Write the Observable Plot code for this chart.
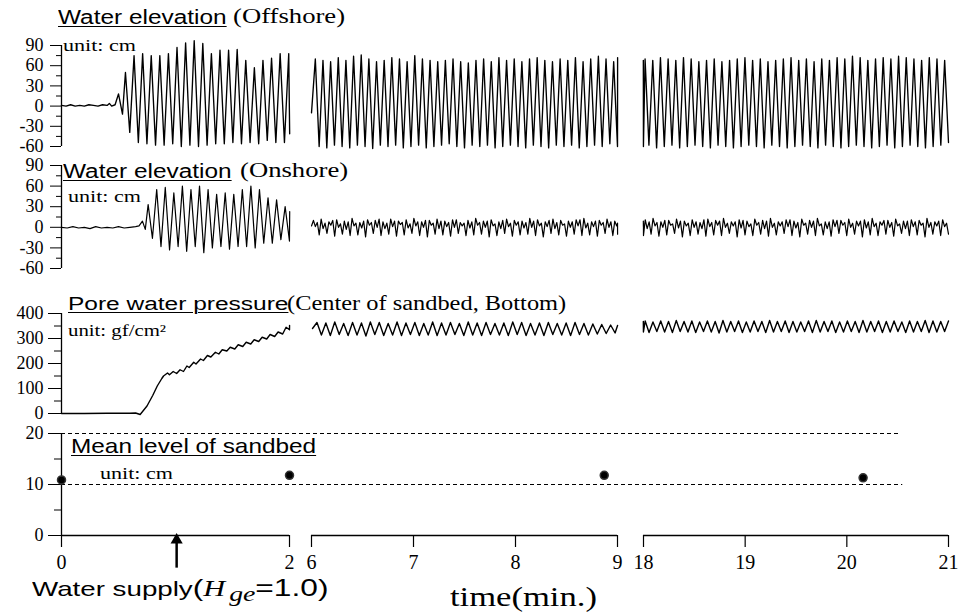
<!DOCTYPE html>
<html><head><meta charset="utf-8">
<script src="https://cdn.jsdelivr.net/npm/d3@7"></script>
<script src="https://cdn.jsdelivr.net/npm/@observablehq/plot@0.6"></script>
<style>
body{margin:0;background:#fff}
#wrap{position:relative;width:958px;height:614px;overflow:hidden;background:#fff}
.layer{position:absolute;left:0;top:0;width:958px;height:614px}
.layer svg{display:block}
.lbl{position:absolute;white-space:nowrap;line-height:1;transform-origin:0 0;color:#000}
.sans{font-family:"Liberation Sans",Arial,sans-serif}
.serif{font-family:"Liberation Serif","Times New Roman",serif}
.u{text-decoration:underline;text-decoration-thickness:1px;text-underline-offset:2px}
</style></head><body>
<div id="wrap"></div>
<script>
// ---- axes ----
const xDomain = [0, 2, 6, 9, 18, 21];
const xRange = [61, 289, 311, 617, 643, 948];
const segStart = [0, 6, 18];
const segEnd = [2, 9, 21];
const xTicks = [0, 2, 6, 7, 8, 9, 18, 19, 20, 21];
const elevTicks = [-60, -30, 0, 30, 60, 90];
const elevMinor = [-45, -15, 15, 45, 75];
const poreTicks = [0, 100, 200, 300, 400];
const poreMinor = [50, 150, 250, 350];
const levelTicks = [0, 10, 20];
const levelMinor = [5, 15];

// ---- Water elevation (Offshore), cm ----
const offshore1Pre = [[0,1],[0.04,0],[0.08,2],[0.12,0],[0.16,1],[0.2,0],[0.24,2],[0.28,1],[0.32,0],[0.36,2],[0.4,1],[0.42,4],[0.44,0],[0.47,2],[0.50,18],[0.535,-12]];
const offshore1Span = [0.561, 2.031];
const offshore1Wave = [50,-39,75,-54,78,-56,75,-58,75,-58,78,-56,87,-60,94,-58,97,-60,93,-58,78,-56,83,-56,83,-54,84,-56,68,-54,57,-56,68,-51,71,-54,78,-54,78,-41];
const offshore2Span = [6.0, 9.0375];
const offshore2Wave = [-10,70,-60,68,-62,66,-58,72,-60,68,-62,74,-58,76,-60,70,-63,66,-58,68,-60,72,-58,70,-62,66,-60,75,-58,70,-62,68,-60,66,-58,68,-56,70,-60,66,-62,64,-58,68,-60,70,-58,66,-62,72,-60,68,-58,70,-60,66,-62,70,-58,72,-60,68,-62,66,-58,70,-60,68,-58,72,-62,66,-60,70,-58,74,-60,70,-56,66,-60,72];
const offshore3Span = [17.94, 21.0];
const offshore3Wave = [68,-60,70,-58,68,-62,72,-60,70,-58,68,-62,72,-60,70,-58,66,-60,68,-62,70,-58,66,-60,68,-62,70,-60,72,-58,68,-60,70,-62,66,-58,68,-60,70,-62,72,-60,68,-58,70,-60,66,-62,70,-58,68,-60,72,-62,70,-60,74,-58,72,-60,68,-62,70,-60,72,-58,70,-62,74,-60,72,-58,70,-60,68,-62,72,-60,70,-58,68,-54];

// ---- Water elevation (Onshore), cm ----
const onshore1Pre = [[0,0],[0.05,-1],[0.1,1],[0.15,-1],[0.2,0],[0.25,-2],[0.3,1],[0.35,-1],[0.4,0],[0.45,-1],[0.5,1],[0.55,-1],[0.6,0],[0.65,1],[0.68,2],[0.71,9],[0.735,-3]];
const onshore1Span = [0.76, 2.037];
const onshore1Wave = [33,-16,55,-28,58,-33,50,-28,60,-35,55,-28,60,-37,55,-30,48,-28,50,-32,48,-28,55,-28,60,-30,55,-23,43,-23,40,-18,30,-20,23];
const onshore2Span = [6.0, 9.03];
const onshore2Wave = [2,
  10,1,7,-11, 12,-2,6,-9, 8,3,10,-13, 11,0,5,-10, 9,-3,8,-12, 13,2,6,-11, 7,-1,9,-14, 11,3,7,-9, 10,0,12,-12, 8,-2,6,-10,
  12,1,9,-13, 9,4,7,-11, 11,-1,5,-9, 13,2,8,-12, 8,0,10,-14, 10,3,6,-10, 12,-2,9,-11, 9,1,7,-13, 11,0,11,-9, 7,2,6,-12,
  10,-1,8,-11, 13,3,7,-10, 9,0,9,-14, 11,2,5,-12, 8,-2,10,-9, 12,1,6,-13, 10,3,8,-11, 9,-1,7,-10, 13,0,9,-12, 11,2,6,-14,
  8,1,10,-9, 12,-2,7,-11, 10,3,5,-13, 9,0,8,-10, 11,2,11,-12, 13,-1,6,-11, 8,1,9,-13, 10,3,7,-9, 12,0,8,-12, 9,2,6,-10];
const onshore3Span = [17.94, 21.0];
const onshore3Wave = [
  9,1,6,-12, 11,-2,8,-10, 13,2,7,-13, 8,0,10,-11, 10,3,5,-9, 12,-1,9,-14, 9,2,6,-12, 11,0,8,-10, 7,-2,11,-13, 12,1,7,-11,
  10,3,9,-12, 13,0,6,-9, 8,2,8,-14, 11,-1,10,-11, 9,1,5,-12, 12,3,7,-10, 10,-2,9,-13, 13,0,6,-11, 8,2,8,-9, 11,1,11,-12,
  9,-1,7,-14, 12,3,6,-10, 10,0,9,-12, 13,2,5,-11, 8,-2,8,-13, 11,1,10,-9, 10,3,7,-12, 12,0,6,-10, 9,2,9,-14, 11,-1,8,-11,
  13,1,6,-12, 8,3,10,-10, 10,0,7,-13, 12,2,5,-9, 9,-2,9,-12, 11,1,8,-11, 10,3,6,-14, 13,0,7,-10, 8,2,9,-12, 11,1,6,-10];

// ---- Pore water pressure, gf/cm2 ----
const pore1Pre = [[0,0],[0.2,0],[0.4,1],[0.6,1],[0.65,2],[0.69,-4],[0.75,30],[0.80,72],[0.84,110],[0.88,140],[0.895,150],[0.93,162],[0.947,155],[0.98,168],[1.01,160],[1.04,175],[1.07,168],[1.10,190],[1.12,184],[1.16,205],[1.18,198],[1.22,218],[1.245,212],[1.28,232],[1.31,226],[1.35,245],[1.38,238],[1.41,255],[1.45,250],[1.48,265],[1.52,258],[1.55,275],[1.59,268],[1.62,285],[1.66,278],[1.69,295],[1.73,288],[1.76,305],[1.80,298],[1.83,316],[1.87,308],[1.90,326],[1.94,318],[1.97,345],[2.0,335],[2.01,352]];
const pore2Span = [6.01, 9.02];
const pore2Wave = [340,364,314,362,312,366,316,360,312,364,314,362,310,366,316,364,312,360,314,366,312,362,316,364,312,360,314,366,312,362,314,364,316,360,312,366,314,362,312,364,316,360,314,362,312,366,316,364,312,360,314,362,312,364,316,360,314,362,312,364,316,360,314,358,318,356,320,354,322,352];
const pore3Span = [17.94, 21.0];
const pore3Wave = [368,326,370,324,366,328,370,326,368,324,372,328,368,326,370,324,366,328,370,326,368,322,372,326,368,328,370,324,366,326,370,328,368,324,372,326,368,328,370,324,368,326,366,328,370,324,372,326,368,328,370,324,366,326,370,328,368,324,372,326,368,328,370,324,368,326,370,328,366,324,370,326,368,328,372,324,370,326,368,328,370];

// ---- Mean level of sandbed, cm ----
const meanT = [0, 2, 8.87, 20.16];
const meanLevel = [10.9, 11.8, 11.8, 11.3];
const refLevels = [20, 10];
const refEnd = [20.51, 20.55];
const supplyT = 1.01;
const supplyArrow = [-6.4, -1.2];

function build(pre, span, values, seg) {
  const rows = pre.map(([t, v]) => ({t, v, seg}));
  const n = values.length;
  values.forEach((v, i) => rows.push({t: span[0] + (span[1] - span[0]) * i / (n - 1), v, seg}));
  return rows;
}
const offshoreRows = [...build(offshore1Pre, offshore1Span, offshore1Wave, 1), ...build([], offshore2Span, offshore2Wave, 2), ...build([], offshore3Span, offshore3Wave, 3)];
const onshoreRows = [...build(onshore1Pre, onshore1Span, onshore1Wave, 1), ...build([], onshore2Span, onshore2Wave, 2), ...build([], onshore3Span, onshore3Wave, 3)];
const poreRows = [...build(pore1Pre, [0, 0], [], 1), ...build([], pore2Span, pore2Wave, 2), ...build([], pore3Span, pore3Wave, 3)];
const meanRows = meanT.map((t, i) => ({t, level: meanLevel[i]}));
const refRows = refLevels.map((y, i) => ({y, e: refEnd[i]}));
const segRows = segStart.map((s, i) => ({s, e: segEnd[i]}));

const W = 958, H = 614;
const wrap = document.getElementById("wrap");
const fmt = d => String(d);

function panel({mt, mb, domain, ticks, minor, size, minorSize, pad, marks, xAxis}) {
  const xs = {type: "linear", domain: xDomain, range: xRange};
  if (!xAxis) xs.axis = null;
  return Plot.plot({
    width: W, height: H,
    marginLeft: 61, marginRight: 10, marginTop: mt, marginBottom: mb,
    style: {background: "transparent", color: "black", fontFamily: "'Liberation Serif', serif", fontSize: "18px", overflow: "visible"},
    x: xs,
    y: {type: "linear", domain},
    marks: [
      Plot.ruleX([0], {y1: () => domain[0], y2: () => domain[1], stroke: "black", strokeWidth: 1.3}),
      Plot.axisY({ticks, tickSize: size, tickPadding: pad, tickFormat: fmt, stroke: "black", fill: "black", label: null, fontSize: 18}),
      Plot.axisY({ticks: minor, tickSize: minorSize, tickFormat: () => "", stroke: "black", label: null}),
      ...(xAxis ? [Plot.axisX({ticks: xTicks, tickSize: 12, tickPadding: 7, tickFormat: fmt, stroke: "black", fill: "black", label: null, fontSize: 20, strokeWidth: 1.2})] : []),
      ...marks
    ]
  });
}

const plots = [
  panel({mt: 45, mb: H - 146, domain: [-60, 90], ticks: elevTicks, minor: elevMinor, size: 11, minorSize: 5, pad: 7,
    marks: [Plot.line(offshoreRows, {x: "t", y: "v", z: "seg", stroke: "black", strokeWidth: 1.35})]}),
  panel({mt: 165, mb: H - 268, domain: [-60, 90], ticks: elevTicks, minor: elevMinor, size: 11, minorSize: 5, pad: 7,
    marks: [Plot.line(onshoreRows, {x: "t", y: "v", z: "seg", stroke: "black", strokeWidth: 1.2})]}),
  panel({mt: 313, mb: H - 413, domain: [0, 400], ticks: poreTicks, minor: poreMinor, size: 13, minorSize: 7, pad: 5,
    marks: [Plot.line(poreRows, {x: "t", y: "v", z: "seg", stroke: "black", strokeWidth: 1.4})]}),
  panel({mt: 433, mb: H - 535, domain: [0, 20], ticks: levelTicks, minor: levelMinor, size: 13, minorSize: 7, pad: 5, xAxis: true,
    marks: [
      Plot.ruleY(refRows, {y: "y", x1: () => 0, x2: "e", stroke: "black", strokeWidth: 1, strokeDasharray: "4,3"}),
      Plot.ruleY(segRows, {y: () => 0, x1: "s", x2: "e", stroke: "black", strokeWidth: 1.3}),
      Plot.dot(meanRows, {x: "t", y: "level", r: 4, fill: "black", stroke: "#333"}),
      Plot.ruleX([supplyT], {y1: () => supplyArrow[0], y2: () => supplyArrow[1], stroke: "black", strokeWidth: 2.5}),
      Plot.dot([supplyT], {x: d => d, y: () => supplyArrow[1] + 0.3, symbol: "triangle", r: 4.5, fill: "black"})
    ]})
];
plots.forEach(p => {
  const d = document.createElement("div");
  d.className = "layer";
  d.appendChild(p);
  wrap.appendChild(d);
});

// ---- text labels ----
const labels = [
  {html: "Water elevation", cls: "sans u", left: 58, base: 24, size: 20, sx: 1.22},
  {html: "(Offshore)", cls: "serif", left: 233, base: 24, size: 21, sx: 1.27},
  {html: "unit: cm", cls: "serif", left: 63, base: 52, size: 16, sx: 1.38},
  {html: "Water elevation", cls: "sans u", left: 63, base: 178, size: 20, sx: 1.22},
  {html: "(Onshore)", cls: "serif", left: 240, base: 178, size: 21, sx: 1.27},
  {html: "unit: cm", cls: "serif", left: 68, base: 203, size: 16, sx: 1.38},
  {html: "Pore water pressure", cls: "sans u", left: 68, base: 310, size: 18, sx: 1.36},
  {html: "(Center of sandbed, Bottom)", cls: "serif", left: 287, base: 310, size: 20, sx: 1.22},
  {html: "unit: gf/cm²", cls: "serif", left: 68, base: 337, size: 16, sx: 1.3},
  {html: "Mean level of sandbed", cls: "sans u", left: 71, base: 453, size: 21, sx: 1.16},
  {html: "unit: cm", cls: "serif", left: 100, base: 480, size: 16, sx: 1.38},
  {html: "time(min.)", cls: "serif", left: 450, base: 607, size: 28, sx: 1.235}
];
labels.forEach(l => {
  const d = document.createElement("div");
  d.className = "lbl " + l.cls;
  d.innerHTML = l.html;
  d.style.left = l.left + "px";
  d.style.top = (l.base - 0.845 * l.size) + "px";
  d.style.fontSize = l.size + "px";
  d.style.transform = `scaleX(${l.sx})`;
  wrap.appendChild(d);
});
const ws = document.createElement("div");
ws.className = "lbl sans";
ws.style.cssText += "left:32px;top:576px;font-size:21px;transform:scaleX(1.32)";
ws.innerHTML = 'Water supply<span style="font-size:24px">(</span><span class="serif" style="font-style:italic;font-size:23px">H</span><span class="serif" style="font-style:italic;font-size:21px;position:relative;top:5px;margin-left:3px">ge</span><span style="font-size:24px">=1.0)</span>';
wrap.appendChild(ws);
</script>
</body></html>
